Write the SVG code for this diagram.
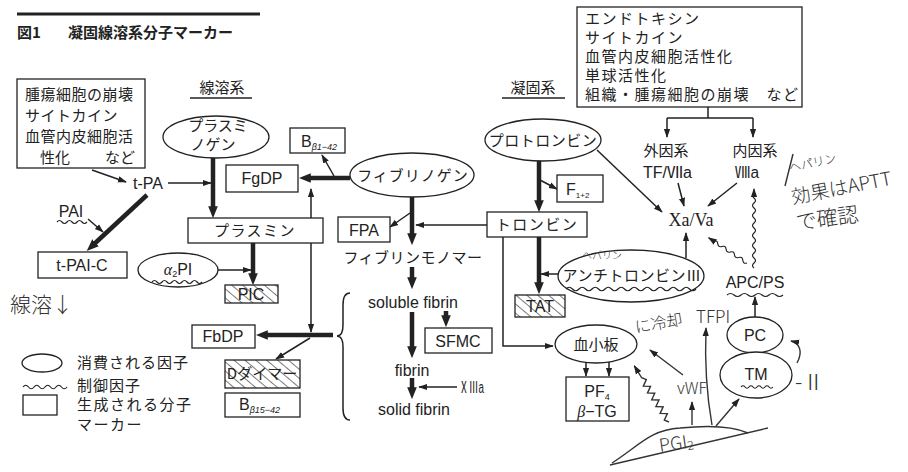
<svg xmlns="http://www.w3.org/2000/svg" width="908" height="472" viewBox="0 0 908 472">
<style>
.box{fill:#fff;stroke:#222;stroke-width:1.3}
.ell{fill:#fff;stroke:#222;stroke-width:1.3}
.hat{fill:url(#hatch);stroke:#222;stroke-width:1.3}
.t{font-family:"Noto Sans CJK JP",sans-serif;font-size:15px;fill:#222}
.l{font-family:"Liberation Sans",Arial,"Noto Sans CJK JP",sans-serif;font-size:16px;fill:#222}
.s{font-family:"Liberation Serif","Times New Roman",serif;font-size:18px;fill:#222}
.h{font-family:"Noto Sans CJK JP",sans-serif;font-weight:300;fill:#333}
.c{text-anchor:middle}
.ln{stroke:#222;stroke-width:1.5;fill:none}
.thk{stroke:#222;stroke-width:4.5;fill:none}
.wv{stroke:#222;stroke-width:1.2;fill:none}
.hw{stroke:#333;stroke-width:1.4;fill:none}
</style>
<defs>
<marker id="ar" viewBox="0 0 10 10" refX="9" refY="5" markerWidth="9" markerHeight="9" markerUnits="userSpaceOnUse" orient="auto"><path d="M0,1.5 L10,5 L0,8.5 z" fill="#222"/></marker>
<marker id="ak" viewBox="0 0 10 10" refX="4" refY="5" markerWidth="12" markerHeight="12" markerUnits="userSpaceOnUse" orient="auto"><path d="M0,1 L10,5 L0,9 z" fill="#222"/></marker>
<pattern id="hatch" width="7" height="7" patternUnits="userSpaceOnUse" patternTransform="rotate(-50)"><rect width="7" height="7" fill="#fff"/><line x1="0" y1="0" x2="0" y2="7" stroke="#333" stroke-width="1.3"/></pattern>
</defs>
<rect width="908" height="472" fill="#fff"/>

<!-- title -->
<g id="title">
<line x1="17" y1="14" x2="260" y2="14" stroke="#222" stroke-width="3"/>
<text class="t" x="17" y="38" font-size="17" font-weight="700">図1</text>
<text class="t" x="68" y="38" font-size="17" font-weight="700">凝固線溶系分子マーカー</text>
</g>

<!-- connectors -->
<g id="connectors">
<path class="ln" d="M92,170 L126,182" marker-end="url(#ar)"/>
<path class="ln" d="M168,183 L211,183" marker-end="url(#ar)"/>
<path class="thk" d="M213,158 L213,211" marker-end="url(#ak)"/>
<path class="thk" d="M147,195 L92,246" marker-end="url(#ak)"/>
<path class="ln" d="M88,219 L103,232" marker-end="url(#ar)"/>
<path class="thk" d="M253,243 L253,278" marker-end="url(#ak)"/>
<path class="ln" d="M218,270 L251,270" marker-end="url(#ar)"/>
<path class="ln" d="M311,218 L311,189" marker-end="url(#ar)"/>
<path class="ln" d="M311,243 L311,332" marker-end="url(#ar)"/>
<path class="thk" d="M333,335 L263,335" marker-end="url(#ak)"/>
<path class="ln" d="M310,338 L276,359" marker-end="url(#ar)"/>
<path class="thk" d="M350,178 L306,178" marker-end="url(#ak)"/>
<path class="ln" d="M334,176 L322,155" marker-end="url(#ar)"/>
<path class="ln" d="M350,293 Q343,293 343,305 L343,325 Q343,336 337,336 Q343,336 343,347 L343,408 Q343,420 350,420"/>
<path class="thk" d="M412,197 L412,238" marker-end="url(#ak)"/>
<path class="ln" d="M410,213 L390,227" marker-end="url(#ar)"/>
<path class="ln" d="M487,225 L416,225" marker-end="url(#ar)"/>
<path class="thk" d="M412,267 L412,282" marker-end="url(#ak)"/>
<path class="thk" d="M412,312 L412,351" marker-end="url(#ak)"/>
<path class="thk" d="M446,311 L446,320" marker-end="url(#ak)"/>
<path class="thk" d="M412,378 L412,392" marker-end="url(#ak)"/>
<path class="ln" d="M457,387 L419,387" marker-end="url(#ar)"/>
<path class="ln" d="M708,107 L708,118 M667,118 L753,118"/>
<path class="ln" d="M667,118 L667,137" marker-end="url(#ar)"/>
<path class="ln" d="M753,118 L753,137" marker-end="url(#ar)"/>
<path class="ln" d="M678,183 L684,206" marker-end="url(#ar)"/>
<path class="ln" d="M737,183 L708,206" marker-end="url(#ar)"/>
<path class="ln" d="M597,150 L662,212" marker-end="url(#ar)"/>
<path class="thk" d="M539,161 L539,205" marker-end="url(#ak)"/>
<path class="ln" d="M540,180 L557,189" marker-end="url(#ar)"/>
<path class="thk" d="M539,237 L539,287" marker-end="url(#ak)"/>
<path class="ln" d="M558,274 L541,274" marker-end="url(#ar)"/>
<path class="ln" d="M503,237 L503,346 L553,346" marker-end="url(#ar)"/>
<path class="ln" d="M586,362 L586,376" marker-end="url(#ar)"/>
<path class="ln" d="M609,362 L609,376" marker-end="url(#ar)"/>
<path class="ln" d="M686,258 L686,233" marker-end="url(#ar)"/>
<path class="ln" d="M755,317 L755,297" marker-end="url(#ar)"/>
<path class="wv" d="M754,268 q-3,-2.5 0,-5 t0,-5 t0,-5 t0,-5 t0,-5 t0,-5 t0,-5 t0,-5 t0,-5 t0,-5 t0,-5 t0,-5 t0,-5 t0,-5 t0,-5 l0,-4" marker-end="url(#ar)"/>
<path class="wv" transform="translate(747,263) rotate(213.4)" d="M0,0 q2.5,-3 5,0 t5,0 t5,0 t5,0 t5,0 t5,0 t5,0 t5,0 l6,0" marker-end="url(#ar)"/>
</g>

<!-- fibrinolysis nodes -->
<g id="n-triggers-left">
<rect class="box" x="17" y="79" width="128" height="89"/>
<text class="t" x="25" y="100" letter-spacing="0.5">腫瘍細胞の崩壊</text>
<text class="t" x="25" y="121" letter-spacing="0.5">サイトカイン</text>
<text class="t" x="25" y="142" letter-spacing="0.5">血管内皮細胞活</text>
<text class="t" y="163"><tspan x="40">性化</tspan><tspan x="105">など</tspan></text>
</g>
<g id="lbl-fibrinolysis">
<text class="t c" x="222" y="93">線溶系</text>
<line x1="190" y1="98" x2="252" y2="98" stroke="#222" stroke-width="1.3"/>
</g>
<g id="n-plasminogen">
<ellipse class="ell" cx="216" cy="137" rx="53" ry="21"/>
<text class="t c" x="218" y="131" font-size="14">プラスミ</text>
<text class="t c" x="213" y="150" font-size="14">ノゲン</text>
</g>
<g id="n-tpa"><text class="l c" x="148" y="189">t-PA</text></g>
<g id="n-pai">
<text class="l c" x="71" y="217">PAI</text>
<path class="wv" d="M57,222 q2.5,-3 5,0 t5,0 t5,0 t5,0 t5,0 t5,0"/>
</g>
<g id="n-tpaic">
<rect class="box" x="38" y="252" width="89" height="26"/>
<text class="l c" x="82" y="271">t-PAI-C</text>
</g>
<g id="n-plasmin">
<rect class="box" x="188" y="218" width="135" height="25"/>
<text class="t c" x="255" y="236" letter-spacing="1.5">プラスミン</text>
</g>
<g id="n-a2pi">
<ellipse class="ell" cx="178" cy="270" rx="40" ry="17"/>
<text class="l c" x="178" y="275"><tspan font-family="Liberation Serif" font-style="italic">α</tspan><tspan font-size="9" dy="2">2</tspan><tspan dy="-2">PI</tspan></text>
<path class="wv" d="M152,282 q2.5,-3 5,0 t5,0 t5,0 t5,0 t5,0 t5,0 t5,0 t5,0 t5,0 t5,0"/>
</g>
<g id="n-pic">
<rect class="hat" x="225" y="285" width="53" height="18"/>
<text class="l c" x="251" y="300" font-size="14">PIC</text>
</g>
<g id="n-bb142">
<rect class="box" x="290" y="128" width="55" height="25"/>
<text class="l" x="301" y="147">B<tspan font-size="9" dy="3" font-style="italic">β1−42</tspan></text>
</g>
<g id="n-fgdp">
<rect class="box" x="226" y="165" width="72" height="27"/>
<text class="l c" x="262" y="184">FgDP</text>
</g>
<g id="n-fbdp">
<rect class="box" x="192" y="325" width="63" height="23"/>
<text class="l c" x="223" y="342">FbDP</text>
</g>
<g id="n-ddimer">
<rect class="hat" x="225" y="360" width="75" height="28"/>
<text class="t c" x="262" y="379" font-size="14">Dダイマー</text>
</g>
<g id="n-bb1542">
<rect class="box" x="225" y="393" width="75" height="24"/>
<text class="l" x="239" y="410">B<tspan font-size="9" dy="3" font-style="italic">β15−42</tspan></text>
</g>

<!-- fibrin formation nodes -->
<g id="n-fibrinogen">
<ellipse class="ell" cx="412" cy="175" rx="62" ry="22"/>
<text class="t c" x="413" y="181" letter-spacing="1">フィブリノゲン</text>
</g>
<g id="n-fpa">
<rect class="box" x="338" y="217" width="52" height="25"/>
<text class="l c" x="364" y="236">FPA</text>
</g>
<g id="n-monomer"><text class="t c" x="413" y="263" letter-spacing="0.5">フィブリンモノマー</text></g>
<g id="n-soluble"><text class="l c" x="413" y="308">soluble fibrin</text></g>
<g id="n-sfmc">
<rect class="box" x="425" y="328" width="67" height="25"/>
<text class="l c" x="458" y="347">SFMC</text>
</g>
<g id="n-fibrin"><text class="l c" x="412" y="376">fibrin</text></g>
<g id="n-13a"><text class="l" x="459" y="393" font-size="15" textLength="25" lengthAdjust="spacingAndGlyphs">ⅩⅢa</text></g>
<g id="n-solid"><text class="l c" x="414" y="415">solid fibrin</text></g>

<!-- coagulation nodes -->
<g id="lbl-coag">
<text class="t c" x="533" y="93">凝固系</text>
<line x1="502" y1="98" x2="565" y2="98" stroke="#222" stroke-width="1.3"/>
</g>
<g id="n-triggers-right">
<rect class="box" x="577" y="7" width="225" height="100"/>
<text class="t" x="585" y="24" font-size="14.5" letter-spacing="1.5">エンドトキシン</text>
<text class="t" x="585" y="43" font-size="14.5" letter-spacing="1.5">サイトカイン</text>
<text class="t" x="585" y="62" font-size="14.5" letter-spacing="1.5">血管内皮細胞活性化</text>
<text class="t" x="585" y="81" font-size="14.5" letter-spacing="1.5">単球活性化</text>
<text class="t" x="585" y="100" font-size="14.5" letter-spacing="1.5">組織・腫瘍細胞の崩壊　など</text>
</g>
<g id="n-extrinsic">
<text class="t c" x="666" y="156">外因系</text>
<text class="l" x="643" y="178" textLength="49" lengthAdjust="spacingAndGlyphs">TF/Ⅶa</text>
</g>
<g id="n-intrinsic">
<text class="t c" x="755" y="156">内因系</text>
<text class="l" x="735" y="178" textLength="24" lengthAdjust="spacingAndGlyphs">Ⅷa</text>
</g>
<g id="n-xava"><text class="s c" x="691" y="226">Xa/Va</text></g>
<g id="n-prothrombin">
<ellipse class="ell" cx="543" cy="140" rx="58" ry="21"/>
<text class="t c" x="543" y="146" letter-spacing="0.5">プロトロンビン</text>
</g>
<g id="n-f12">
<rect class="box" x="557" y="175" width="46" height="27"/>
<text class="l" x="566" y="195">F<tspan font-size="8" dy="3">1+2</tspan></text>
</g>
<g id="n-thrombin">
<rect class="box" x="487" y="212" width="100" height="25"/>
<text class="t c" x="537" y="230" letter-spacing="1.5">トロンビン</text>
</g>
<g id="n-tat">
<rect class="hat" x="515" y="295" width="50" height="22"/>
<text class="l c" x="540" y="312" font-size="14">TAT</text>
</g>
<g id="n-at">
<ellipse class="ell" cx="631" cy="276" rx="73" ry="26"/>
<text class="h c" x="602" y="259" font-size="10">ヘパリン</text>
<text class="t c" x="632" y="281" letter-spacing="0.5">アンチトロンビンⅢ</text>
<path class="wv" d="M566,289 q3.25,-3.5 6.5,0 t6.5,0 t6.5,0 t6.5,0 t6.5,0 t6.5,0 t6.5,0 t6.5,0 t6.5,0 t6.5,0 t6.5,0 t6.5,0 t6.5,0 t6.5,0 t6.5,0 t6.5,0 t6.5,0 t6.5,0 t6.5,0 t6.5,0"/>
</g>
<g id="n-platelet">
<ellipse class="ell" cx="596" cy="344" rx="41" ry="19"/>
<text class="t c" x="596" y="350">血小板</text>
</g>
<g id="n-pf4">
<rect class="box" x="566" y="377" width="63" height="44"/>
<text class="l c" x="597" y="397">PF<tspan font-size="9" dy="3">4</tspan></text>
<text class="l c" x="597" y="417"><tspan font-family="Liberation Serif" font-style="italic">β</tspan>−TG</text>
</g>
<g id="n-apcps">
<text class="l c" x="755" y="288">APC/PS</text>
<path class="wv" d="M727,295 q3.5,-3 7,0 t7,0 t7,0 t7,0 t7,0 t7,0 t7,0 t7,0"/>
</g>
<g id="n-pc">
<ellipse class="ell" cx="755" cy="335" rx="28" ry="18"/>
<text class="l c" x="755" y="341">PC</text>
</g>
<g id="n-tm">
<ellipse class="ell" cx="756" cy="375" rx="36" ry="23"/>
<text class="l c" x="756" y="380">TM</text>
<path class="wv" d="M741,387 q2,-2.5 4,0 t4,0 t4,0 t4,0 t4,0 t4,0 t4,0 t4,0"/>
</g>

<!-- legend -->
<g id="legend">
<ellipse class="ell" cx="42" cy="363" rx="20" ry="9"/>
<text class="t" x="77" y="368" font-size="14" letter-spacing="1">消費される因子</text>
<path class="wv" d="M23,387 q2.75,-3.5 5.5,0 t5.5,0 t5.5,0 t5.5,0 t5.5,0 t5.5,0 t5.5,0 t5.5,0"/>
<text class="t" x="77" y="391" font-size="14" letter-spacing="1">制御因子</text>
<rect class="box" x="23" y="395" width="34" height="20"/>
<text class="t" x="77" y="410" font-size="13.5" letter-spacing="1.5">生成される分子</text>
<text class="t" x="77" y="430" font-size="13.5" letter-spacing="1.5">マーカー</text>
</g>

<!-- handwritten annotations -->
<g id="handwriting">
<text class="h" x="10" y="312" font-size="21">線溶↓</text>
<path class="hw" d="M785,186 L793,154"/>
<text class="h" x="790" y="172" font-size="12" transform="rotate(-12 790 172)">ヘパリン</text>
<text class="h" x="793" y="204" font-size="19" transform="rotate(-11 793 204)">効果はAPTT</text>
<text class="h" x="797" y="230" font-size="21" transform="rotate(-8 797 230)">で確認</text>
<text class="h" x="636" y="333" font-size="16" transform="rotate(-10 636 333)">に冷却</text>
<text class="h" x="696" y="323" font-family="Liberation Sans" font-size="17">TFPI</text>
<text class="h" x="677" y="394" font-family="Liberation Sans" font-size="16">vWF</text>
<text class="h" x="660" y="452" font-family="Liberation Sans" font-size="18" transform="rotate(-8 660 452)">PGI<tspan font-size="12" dy="2">2</tspan></text>
<text class="h" x="795" y="390" font-size="22">-Ⅱ</text>
<path class="hw" d="M610,465 L768,428"/>
<path class="hw" d="M612,463 C640,445 650,430 680,428 C700,426 730,425 748,433"/>
<path class="hw" d="M692,425 L692,402" marker-end="url(#ar)"/>
<path class="hw" d="M716,426 L739,399" marker-end="url(#ar)"/>
<path class="hw" d="M712,425 Q704,380 706,328" marker-end="url(#ar)"/>
<path class="hw" d="M683,375 L650,350" marker-end="url(#ar)"/>
<path class="hw" transform="translate(669,422) rotate(238.3)" d="M0,0 l4,-3 l4,6 l4,-6 l4,6 l4,-6 l4,6 l4,-6 l4,6 l4,-6 l4,6 l4,-6 l4,6 l4,-3 l14,0" marker-end="url(#ar)"/>
<path class="hw" d="M797,363 C803,352 800,343 791,341" marker-end="url(#ar)"/>
</g>
</svg>
